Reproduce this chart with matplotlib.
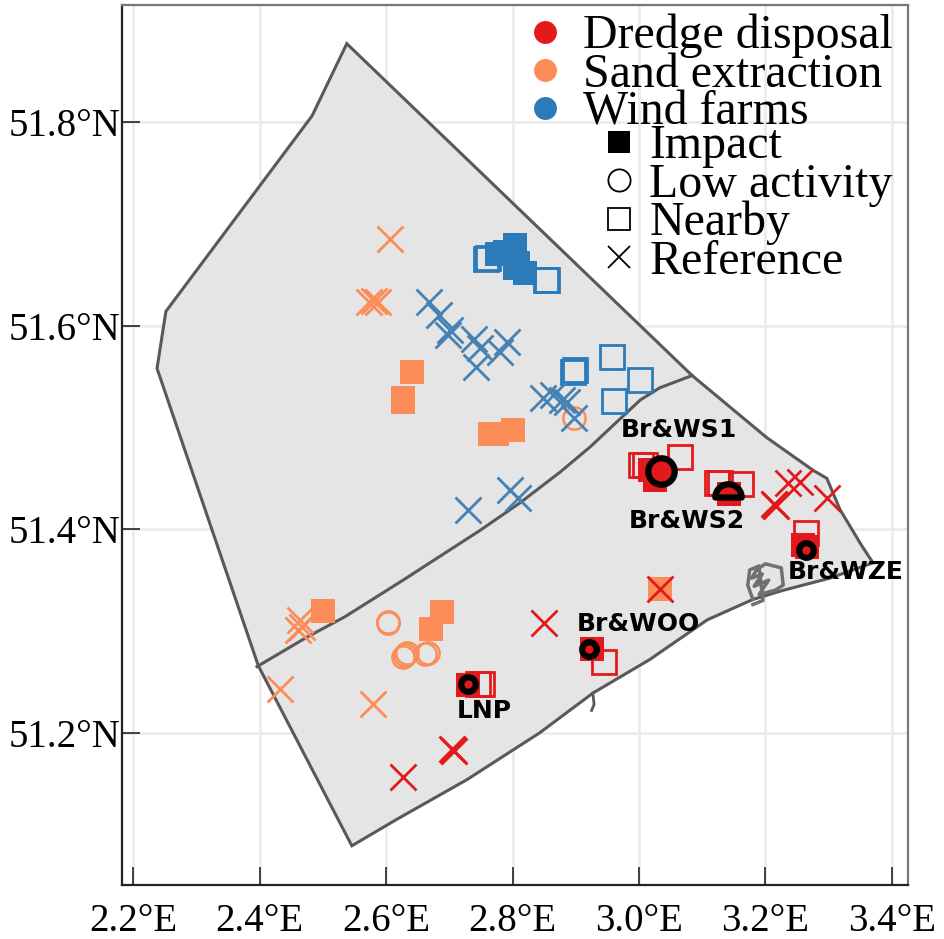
import matplotlib
matplotlib.use('Agg')
import matplotlib.pyplot as plt
from matplotlib.lines import Line2D
from matplotlib.path import Path

# study area outline
area_lon = [2.538, 2.483, 2.252, 2.238, 2.398, 2.546, 2.617, 2.728, 2.843, 2.927, 3.017, 3.108, 3.180, 3.228, 3.302, 3.370, 3.353, 3.318, 3.297, 3.275, 3.202, 3.084, 2.538]
area_lat = [51.877, 51.806, 51.614, 51.558, 51.266, 51.089, 51.115, 51.154, 51.200, 51.239, 51.272, 51.311, 51.331, 51.340, 51.352, 51.367, 51.383, 51.419, 51.450, 51.458, 51.490, 51.551, 51.877]
split_lon = [2.396, 2.475, 2.535, 2.627, 2.749, 2.812, 2.875, 2.923, 3.002, 3.033, 3.084]
split_lat = [51.265, 51.294, 51.314, 51.350, 51.399, 51.426, 51.456, 51.481, 51.527, 51.539, 51.551]
# harbour scribble + small jetty
harbour_lon = [3.180, 3.172, 3.175, 3.190, 3.178, 3.195, 3.182, 3.205, 3.190, 3.215, 3.228, 3.225, 3.200, 3.190, 3.196, 3.180]
harbour_lat = [51.331, 51.345, 51.360, 51.364, 51.352, 51.356, 51.344, 51.350, 51.336, 51.340, 51.345, 51.362, 51.366, 51.362, 51.330, 51.326]
jetty_lon = [2.927, 2.929, 2.925]
jetty_lat = [51.239, 51.228, 51.222]

# wind farms
wind_impact_lon = [2.775, 2.788, 2.804, 2.804, 2.804, 2.820, 2.808]
wind_impact_lat = [51.670, 51.672, 51.679, 51.668, 51.657, 51.652, 51.662]
wind_near_lon = [2.758, 2.761, 2.855, 2.853, 2.896, 2.899, 2.957, 3.002, 2.960]
wind_near_lat = [51.665, 51.666, 51.645, 51.645, 51.554, 51.556, 51.569, 51.547, 51.526]
wind_ref_lon = [2.668, 2.684, 2.698, 2.701, 2.739, 2.749, 2.742, 2.780, 2.791, 2.848, 2.864, 2.878, 2.886, 2.897, 2.730, 2.796, 2.809]
wind_ref_lat = [51.623, 51.610, 51.591, 51.596, 51.587, 51.578, 51.559, 51.574, 51.584, 51.529, 51.532, 51.527, 51.525, 51.509, 51.419, 51.439, 51.431]

# sand extraction
sand_impact_lon = [2.641, 2.627, 2.627, 2.764, 2.775, 2.801, 2.500, 2.689, 2.671, 3.033]
sand_impact_lat = [51.554, 51.529, 51.525, 51.494, 51.494, 51.497, 51.320, 51.319, 51.302, 51.341]
sand_low_lon = [2.897, 2.603, 2.603, 2.627, 2.633, 2.630, 2.666, 2.662]
sand_low_lat = [51.509, 51.309, 51.308, 51.274, 51.278, 51.276, 51.278, 51.277]
sand_ref_lon = [2.606, 2.573, 2.581, 2.587, 2.464, 2.467, 2.461, 2.432, 2.579]
sand_ref_lat = [51.685, 51.623, 51.624, 51.623, 51.311, 51.304, 51.301, 51.243, 51.228]

# dredge disposal
dredge_impact_lon = [3.028, 3.017, 3.025, 3.142, 3.259, 3.266, 2.926, 2.730]
dredge_impact_lat = [51.456, 51.458, 51.448, 51.435, 51.385, 51.383, 51.282, 51.247]
dredge_near_lon = [3.003, 3.009, 3.065, 3.123, 3.128, 3.161, 3.264, 2.945, 2.752, 2.746]
dredge_near_lat = [51.463, 51.463, 51.471, 51.445, 51.445, 51.444, 51.396, 51.270, 51.248, 51.248]
dredge_ref_lon = [3.236, 3.255, 3.215, 3.213, 3.217, 3.297, 3.033, 2.850, 2.706, 2.704, 2.708, 2.627]
dredge_ref_lat = [51.445, 51.446, 51.424, 51.425, 51.423, 51.431, 51.341, 51.308, 51.183, 51.184, 51.182, 51.157]

# named sites (black rings)
site_names = ['Br&WS1', 'Br&WS2', 'Br&WZE', 'Br&WOO', 'LNP']
site_lon = [3.035, 3.141, 3.264, 2.921, 2.730]
site_lat = [51.457, 51.432, 51.380, 51.282, 51.248]
site_ms = [19, 19, 10.5, 10.5, 10.5]
label_lon = [3.063, 3.076, 3.326, 2.999, 2.755]
label_lat = [51.497, 51.408, 51.358, 51.307, 51.221]

lon_ticks = [2.2, 2.4, 2.6, 2.8, 3.0, 3.2, 3.4]
lat_ticks = [51.2, 51.4, 51.6, 51.8]

red = '#e31a1c'
orange = '#fc8d59'
blue = '#2b7bba'
xblue = '#4682b4'
edge = '#595959'

fig = plt.figure(figsize=(9.45, 9.39), dpi=100)
ax = fig.add_axes([122 / 945, 1 - 885 / 939, (908 - 122) / 945, (885 - 5) / 939])
ax.set_xlim(2.1826, 3.4253)
ax.set_ylim(51.0505, 51.915)

ax.grid(True, color='#ebebeb', linewidth=2)
ax.set_axisbelow(True)

ax.fill(area_lon, area_lat, facecolor='#e5e5e5', edgecolor=edge, linewidth=2.2, zorder=1)
ax.plot(split_lon, split_lat, color=edge, linewidth=2.2, zorder=1.5)
ax.plot(harbour_lon, harbour_lat, color='#707070', linewidth=2.5, zorder=1.5)
ax.plot(jetty_lon, jetty_lat, color=edge, linewidth=2, zorder=1.5)

# impact
ax.plot(wind_impact_lon, wind_impact_lat, 's', color=blue, ms=17, mew=0, zorder=3)
ax.plot(sand_impact_lon, sand_impact_lat, 's', color=orange, ms=17, mew=0, zorder=3)
ax.plot(dredge_impact_lon, dredge_impact_lat, 's', color=red, ms=17, mew=0, zorder=3)
# nearby
ax.plot(wind_near_lon, wind_near_lat, 's', mfc='none', mec=blue, ms=17, mew=2, zorder=2.5)
ax.plot(dredge_near_lon, dredge_near_lat, 's', mfc='none', mec=red, ms=17, mew=2, zorder=2.5)
# low activity
ax.plot(sand_low_lon, sand_low_lat, 'o', mfc='none', mec=orange, ms=16, mew=1.8, zorder=3.5)
# reference
ax.plot(wind_ref_lon, wind_ref_lat, 'x', color=xblue, ms=19, mew=2, zorder=4)
ax.plot(sand_ref_lon, sand_ref_lat, 'x', color=orange, ms=19, mew=2, zorder=4)
ax.plot(dredge_ref_lon, dredge_ref_lat, 'x', color=red, ms=19, mew=2, zorder=4)

for i, name in enumerate(site_names):
    # Br&WS2 only shows as a half circle in the original
    mark = Path.wedge(0, 180) if name == 'Br&WS2' else 'o'
    ax.plot(site_lon[i], site_lat[i], marker=mark, mfc=red, mec='black', mew=4.5,
            ms=site_ms[i], ls='', zorder=5)
    ax.text(label_lon[i], label_lat[i], name, fontsize=18, fontweight='bold', color='black',
            ha='center', va='center', zorder=6)

ax.set_xticks(lon_ticks)
ax.set_yticks(lat_ticks)
ax.set_xticklabels([f'{v:.1f}°E' for v in lon_ticks], fontfamily='Liberation Serif', fontsize=28)
ax.set_yticklabels([f'{v:.1f}°N' for v in lat_ticks], fontfamily='Liberation Serif', fontsize=28)
ax.tick_params(axis='both', direction='in', length=13, width=1.3, color='#333333')
ax.tick_params(axis='x', pad=13)
ax.tick_params(axis='y', pad=1)
ax.spines['top'].set_color('#777777')
ax.spines['right'].set_color('#777777')
ax.spines['left'].set_color('#222222')
ax.spines['bottom'].set_color('#222222')
for side in ax.spines.values():
    side.set_linewidth(1.6)

activity = [Line2D([], [], marker='o', ls='', color=red, ms=16.5, mew=0),
            Line2D([], [], marker='o', ls='', color=orange, ms=16.5, mew=0),
            Line2D([], [], marker='o', ls='', color=blue, ms=16.5, mew=0)]
leg1 = ax.legend(activity, ['Dredge disposal', 'Sand extraction', 'Wind farms'], loc='upper left',
                 bbox_to_anchor=(0.4835, 1.0225), frameon=False, handlelength=0.6, handletextpad=0.49,
                 labelspacing=-0.12, prop={'family': 'Liberation Serif', 'size': 34.5}, borderpad=0.1)
ax.add_artist(leg1)
kinds = [Line2D([], [], marker='s', ls='', color='black', ms=16, mew=0),
         Line2D([], [], marker='o', ls='', mfc='none', mec='black', ms=16, mew=1.3),
         Line2D([], [], marker='s', ls='', mfc='none', mec='black', ms=16, mew=1.3),
         Line2D([], [], marker='x', ls='', color='black', ms=16, mew=1.3)]
ax.legend(kinds, ['Impact', 'Low activity', 'Nearby', 'Reference'], loc='upper left',
          bbox_to_anchor=(0.577, 0.897), frameon=False, handlelength=0.6, handletextpad=0.34,
          labelspacing=-0.12, prop={'family': 'Liberation Serif', 'size': 34.5}, borderpad=0.1)

plt.savefig('out.png', dpi=100)
